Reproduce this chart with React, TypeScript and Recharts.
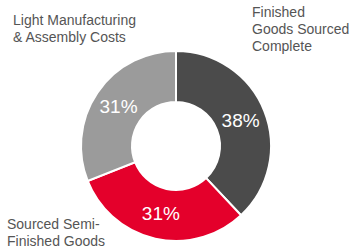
import { Cell, Pie, PieChart } from "recharts";

const CATEGORIES = [
  "Finished Goods Sourced Complete",
  "Sourced Semi-Finished Goods",
  "Light Manufacturing & Assembly Costs",
];
const SHARES = [38, 31, 31];
const COLORS = ["#4b4b4b", "#e4002b", "#9b9b9b"];

// text blocks placed around the ring, one per category
const LABEL_LINES = [
  ["Finished", "Goods Sourced", "Complete"],
  ["Sourced Semi-", "Finished Goods"],
  ["Light Manufacturing", "& Assembly Costs"],
];
const LABEL_POS = [
  { left: 252, top: 4 },
  { left: 7, top: 216 },
  { left: 13, top: 12 },
];

const data = CATEGORIES.map((name, i) => ({ name, value: SHARES[i] }));

const RAD = Math.PI / 180;

function renderPct(props: any) {
  const { cx, cy, midAngle, innerRadius, outerRadius, value } = props;
  const r = (innerRadius + outerRadius) / 2;
  const x = cx + r * Math.cos(-midAngle * RAD);
  const y = cy + r * Math.sin(-midAngle * RAD);
  return (
    <text
      x={x}
      y={y}
      fill="#ffffff"
      textAnchor="middle"
      dominantBaseline="central"
      fontSize={19}
      fontFamily="'Liberation Sans', Arial, sans-serif"
    >
      {value}%
    </text>
  );
}

export default function App() {
  return (
    <div
      style={{
        position: "fixed",
        left: 0,
        top: 0,
        width: 352,
        height: 250,
        background: "#ffffff",
        fontFamily: "'Liberation Sans', Arial, sans-serif",
      }}
    >
      <PieChart width={352} height={250} margin={{ top: 0, right: 0, bottom: 0, left: 0 }}>
        <Pie
          data={data}
          dataKey="value"
          nameKey="name"
          cx={176}
          cy={146}
          innerRadius={44}
          outerRadius={95}
          startAngle={90}
          endAngle={-270}
          stroke="#ffffff"
          strokeWidth={2}
          label={renderPct}
          labelLine={false}
          isAnimationActive={false}
        >
          {data.map((d, i) => (
            <Cell key={d.name} fill={COLORS[i]} />
          ))}
        </Pie>
      </PieChart>
      {LABEL_LINES.map((lines, i) => (
        <div
          key={i}
          style={{
            position: "absolute",
            left: LABEL_POS[i].left,
            top: LABEL_POS[i].top,
            fontSize: 14,
            lineHeight: "17px",
            color: "#555555",
            whiteSpace: "nowrap",
          }}
        >
          {lines.map((l) => (
            <div key={l}>{l}</div>
          ))}
        </div>
      ))}
    </div>
  );
}
